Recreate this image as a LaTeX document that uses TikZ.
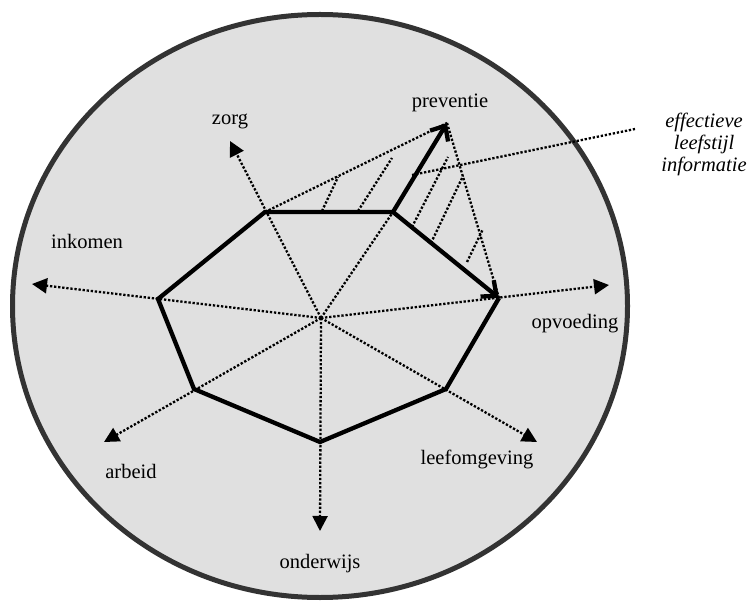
\documentclass[tikz,border=0pt]{standalone}
\usepackage{fontspec}
\setmainfont{Liberation Serif}
\usetikzlibrary{arrows.meta,shapes.geometric}
\definecolor{bgfill}{HTML}{E0E0E0}
\definecolor{rim}{HTML}{333333}
\begin{document}
\begin{tikzpicture}[x=1pt,y=-1pt,
  dotline/.style={line width=2.3pt, dash pattern=on 2.3pt off 1.8pt, black},
  spoke/.style={dotline, -{Triangle[length=15pt,width=15pt]}},
  poly/.style={line width=4.3pt, black},
  thickarrow/.style={line width=4.3pt, black, -{Straight Barb[length=12pt,width=21pt]}},
  lbl/.style={font=\fontsize{20.5}{22}\selectfont, anchor=base, inner sep=0pt},
  ilbl/.style={lbl, font=\fontsize{20.5}{22}\selectfont\itshape}
]
\useasboundingbox (0,0) rectangle (749,601);
\node[ellipse, draw=rim, fill=bgfill, line width=5pt, minimum width=615pt, minimum height=583pt, inner sep=0pt] (disc) at (320,306) {};

% polygon vertices
\coordinate (C) at (321,318);
\coordinate (TL) at (265,212);
\coordinate (TR) at (393,212);
\coordinate (R) at (499,298);
\coordinate (LR) at (446,389);
\coordinate (B) at (320,442);
\coordinate (LL) at (194,389);
\coordinate (L) at (158,299);
% spoke tips
\coordinate (zorgT) at (230,141);
\coordinate (prevT) at (447,123);
\coordinate (opvT) at (609,285);
\coordinate (leefT) at (537,442);
\coordinate (ondT) at (320,531);
\coordinate (arbT) at (104,442);
\coordinate (inkT) at (32,284);

% spokes
\draw[spoke] (C) -- (zorgT);
\draw[spoke] (C) -- (opvT);
\draw[spoke] (C) -- (leefT);
\draw[spoke] (C) -- (ondT);
\draw[spoke] (C) -- (arbT);
\draw[spoke] (C) -- (inkT);
\draw[dotline] (C) -- (TR);

% expanded outline
\draw[dotline] (TL) -- (prevT);
\draw[dotline] (prevT) -- (R);

% hatching
\coordinate (h1a) at (322,211); \coordinate (h1b) at (338,177);
\coordinate (h2a) at (358,211); \coordinate (h2b) at (392,158);
\coordinate (h3a) at (412,227); \coordinate (h3b) at (448,157);
\coordinate (h4a) at (431,243); \coordinate (h4b) at (463,176);
\coordinate (h5a) at (467,262); \coordinate (h5b) at (483,229);
\draw[dotline] (h1a) -- (h1b);
\draw[dotline] (h2a) -- (h2b);
\draw[dotline] (h3a) -- (h3b);
\draw[dotline] (h4a) -- (h4b);
\draw[dotline] (h5a) -- (h5b);

% pointer
\coordinate (ptA) at (412,175);
\coordinate (ptB) at (635,129);
\draw[dotline] (ptA) -- (ptB);

% polygon
\draw[poly] (TR) -- (TL) -- (L) -- (LL) -- (B) -- (LR) -- (R);
\draw[thickarrow] (TR) -- (R);
\draw[thickarrow] (TR) -- (prevT);

% labels
\node[lbl] (lprev) at (450,108) {preventie};
\node[lbl] (lzorg) at (230,125) {zorg};
\node[lbl] (link) at (87,249) {inkomen};
\node[lbl] (lopv) at (575,329) {opvoeding};
\node[lbl] (lleef) at (477,464) {leefomgeving};
\node[lbl] (larb) at (131,478) {arbeid};
\node[lbl] (lond) at (320,568) {onderwijs};
\node[ilbl] (le1) at (704,128) {effectieve};
\node[ilbl] (le2) at (704,150) {leefstijl};
\node[ilbl] (le3) at (704,172) {informatie};
\end{tikzpicture}
\end{document}
